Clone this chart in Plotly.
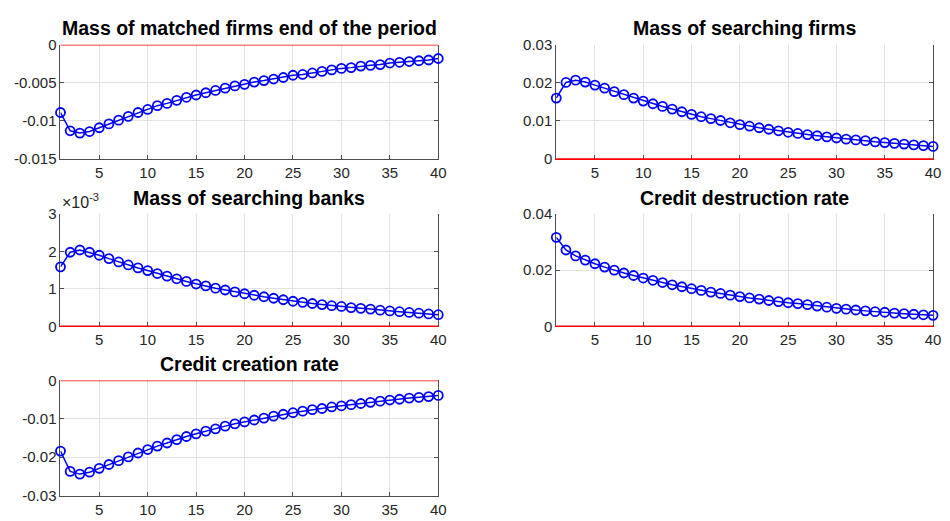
import plotly.graph_objects as go

periods = list(range(1, 41))

matched_firms = [-0.0089, -0.0113, -0.0116, -0.0114, -0.0109, -0.0104, -0.0099, -0.0094, -0.0089, -0.0085,
                 -0.0080, -0.0077, -0.0073, -0.0069, -0.0066, -0.0063, -0.0060, -0.0057, -0.0054, -0.0052,
                 -0.0049, -0.0047, -0.0045, -0.0043, -0.0040, -0.0039, -0.0037, -0.0035, -0.0033, -0.0031,
                 -0.0030, -0.0028, -0.0027, -0.0026, -0.0024, -0.0023, -0.0022, -0.0021, -0.0020, -0.0018]

searching_firms = [0.0160, 0.0201, 0.0207, 0.0202, 0.0194, 0.0186, 0.0177, 0.0169, 0.0160, 0.0152,
                   0.0145, 0.0138, 0.0131, 0.0124, 0.0117, 0.0111, 0.0106, 0.0101, 0.0095, 0.0090,
                   0.0086, 0.0082, 0.0078, 0.0074, 0.0070, 0.0067, 0.0064, 0.0061, 0.0058, 0.0055,
                   0.0052, 0.0050, 0.0048, 0.0045, 0.0043, 0.0041, 0.0039, 0.0037, 0.0035, 0.0033]

searching_banks = [0.00159, 0.00198, 0.00204, 0.00198, 0.00190, 0.00181, 0.00172, 0.00164, 0.00156, 0.00149,
                   0.00141, 0.00134, 0.00127, 0.00120, 0.00113, 0.00108, 0.00102, 0.00097, 0.00092, 0.00087,
                   0.00083, 0.00079, 0.00075, 0.00071, 0.00067, 0.00064, 0.00061, 0.00058, 0.00055, 0.00053,
                   0.00050, 0.00048, 0.00046, 0.00043, 0.00041, 0.00039, 0.00037, 0.00035, 0.00033, 0.00031]

credit_destruction = [0.0317, 0.0272, 0.0251, 0.0236, 0.0223, 0.0211, 0.0200, 0.0190, 0.0181, 0.0172,
                      0.0164, 0.0156, 0.0148, 0.0141, 0.0134, 0.0128, 0.0122, 0.0117, 0.0111, 0.0106,
                      0.0101, 0.0097, 0.0092, 0.0088, 0.0084, 0.0081, 0.0077, 0.0072, 0.0068, 0.0064,
                      0.0061, 0.0058, 0.0055, 0.0052, 0.0050, 0.0047, 0.0045, 0.0043, 0.0041, 0.0039]

credit_creation = [-0.0184, -0.0237, -0.0244, -0.0239, -0.0229, -0.0219, -0.0209, -0.0199, -0.0189, -0.0180,
                   -0.0171, -0.0163, -0.0154, -0.0146, -0.0139, -0.0132, -0.0126, -0.0119, -0.0113, -0.0108,
                   -0.0103, -0.0098, -0.0093, -0.0088, -0.0084, -0.0080, -0.0076, -0.0073, -0.0069, -0.0066,
                   -0.0063, -0.0060, -0.0057, -0.0054, -0.0051, -0.0049, -0.0046, -0.0044, -0.0042, -0.0039]

titles = ["Mass of matched firms end of the period", "Mass of searching firms",
         "Mass of searching banks", "Credit destruction rate", "Credit creation rate"]
series = [matched_firms, searching_firms, searching_banks, credit_destruction, credit_creation]
y_ranges = [[-0.015, 0], [0, 0.03], [0, 0.003], [0, 0.04], [-0.03, 0]]
y_ticks = [[-0.015, -0.01, -0.005, 0], [0, 0.01, 0.02, 0.03], [0, 0.001, 0.002, 0.003],
           [0, 0.02, 0.04], [-0.03, -0.02, -0.01, 0]]
y_ticktext = [["-0.015", "-0.01", "-0.005", "0"], ["0", "0.01", "0.02", "0.03"], ["0", "1", "2", "3"],
              ["0", "0.02", "0.04"], ["-0.03", "-0.02", "-0.01", "0"]]
x_ticks = [5, 10, 15, 20, 25, 30, 35, 40]

W, H = 950, 521
def px_x(p):
    return p / W
def px_y(p):
    return 1 - p / H

x_dom = [[px_x(61), px_x(442)], [px_x(561), px_x(941)]]
y_px = [(37, 155), (212, 328), (384, 503)]
y_dom = [[px_y(b), px_y(t)] for t, b in y_px]

RED = "#ff0000"
GRAY = "#4d4d4d"
font_family = "Liberation Sans, Arial, Helvetica, sans-serif"
fig = go.Figure()
layout = dict(width=W, height=H, margin=dict(l=0, r=0, t=0, b=0),
              paper_bgcolor="white", plot_bgcolor="white", showlegend=False,
              font=dict(family=font_family, color="#262626"))
annotations = []
nplots = len(series)

for i, (title, ys) in enumerate(zip(titles, series)):
    row, col = divmod(i, 2)
    n = "" if i == 0 else str(i + 1)
    xa, ya = "x" + n, "y" + n
    n_top = str(i + 1 + nplots)
    fig.add_trace(go.Scatter(x=[periods[0], periods[-1]], y=[0, 0], mode="lines",
                             line=dict(color=RED, width=1.5), xaxis=xa, yaxis=ya,
                             hoverinfo="skip"))
    fig.add_trace(go.Scatter(x=periods, y=ys, mode="lines+markers",
                             line=dict(color="#0000ff", width=1.5),
                             marker=dict(symbol="circle-open", size=9, color="#0000ff",
                                         line=dict(width=1.8, color="#0000ff")),
                             xaxis=xa, yaxis=ya, cliponaxis=False))
    zero_top = y_ranges[i][1] == 0
    zero_bottom = y_ranges[i][0] == 0
    tickfont = dict(size=15, color="#262626", family=font_family)
    layout["xaxis" + n] = dict(domain=x_dom[col], range=[periods[0], periods[-1]], tickvals=x_ticks,
                               anchor=ya, showline=True, mirror=False,
                               linecolor=RED if zero_bottom else GRAY, linewidth=1.3 if zero_bottom else 1,
                               ticks="inside", ticklen=4, tickcolor=GRAY, showgrid=True,
                               gridcolor="#e3e3e3", gridwidth=1, zeroline=False,
                               layer="below traces", tickfont=tickfont)
    layout["xaxis" + n_top] = dict(domain=x_dom[col], range=[periods[0], periods[-1]], tickvals=x_ticks,
                                   anchor=ya, overlaying=xa, side="top", showline=True,
                                   linecolor=RED if zero_top else GRAY, linewidth=1.3 if zero_top else 1,
                                   ticks="inside", ticklen=4, tickcolor=GRAY, showticklabels=False,
                                   showgrid=False, zeroline=False, layer="below traces")
    layout["yaxis" + n] = dict(domain=y_dom[row], range=y_ranges[i], tickvals=y_ticks[i],
                               ticktext=y_ticktext[i], anchor=xa, showline=True, mirror="ticks",
                               linecolor=GRAY, linewidth=1, ticks="inside", ticklen=4,
                               tickcolor=GRAY, showgrid=True, gridcolor="#e3e3e3", gridwidth=1,
                               zeroline=False, layer="below traces", tickfont=tickfont)
    annotations.append(dict(text="<b>" + title + "</b>", xref="paper", yref="paper",
                            x=(x_dom[col][0] + x_dom[col][1]) / 2, y=y_dom[row][1] + 17 / H,
                            xanchor="center", yanchor="middle", showarrow=False,
                            font=dict(size=19.5, color="black", family=font_family)))

annotations.append(dict(text="\u00d710<sup>-3</sup>", xref="paper", yref="paper",
                        x=x_dom[0][0], y=y_dom[1][1] + 1 / H, xanchor="left", yanchor="bottom",
                        showarrow=False, font=dict(size=16, color="#262626", family=font_family)))
layout["annotations"] = annotations
fig.update_layout(**layout)
fig.write_html("out.html", config={"displayModeBar": False},
               post_script="document.body.style.margin='0';document.body.style.overflow='hidden';")
